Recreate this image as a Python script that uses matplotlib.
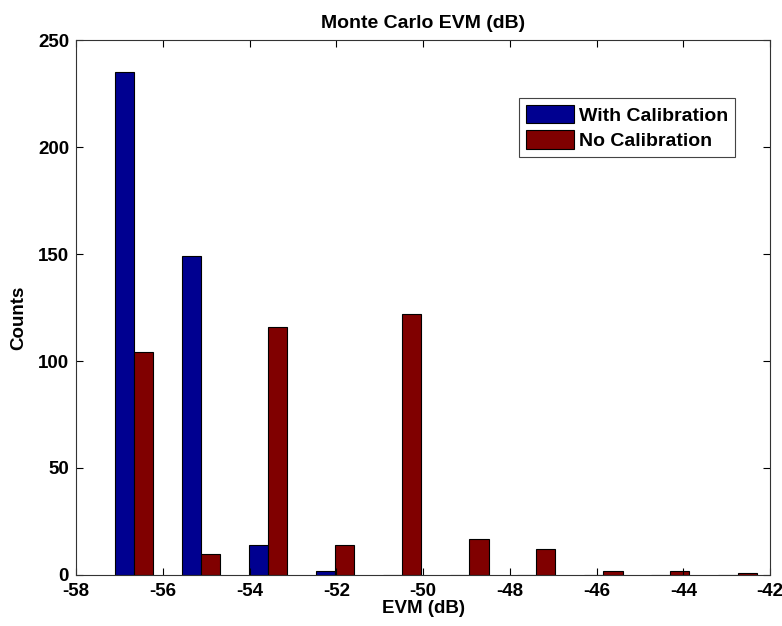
import matplotlib
matplotlib.use("Agg")
import matplotlib.pyplot as plt
import numpy as np

plt.rcParams['font.family'] = ['Liberation Sans', 'DejaVu Sans']
plt.rcParams['axes.unicode_minus'] = False

# Data
bin_centers = [-56.66, -55.11, -53.57, -52.02, -50.48, -48.93, -47.39, -45.84, -44.30, -42.75]
with_cal = [235, 149, 14, 2, 0, 0, 0, 0, 0, 0]
no_cal = [104, 10, 116, 14, 122, 17, 12, 2, 2, 1]
series_labels = ["With Calibration", "No Calibration"]
xticks = list(range(-58, -41, 2))
yticks = list(range(0, 251, 50))

fig = plt.figure(figsize=(7.82, 6.26), dpi=100)
ax = fig.add_axes([0.0972, 0.0815, 0.8875, 0.8545])

x = np.array(bin_centers)
w = 0.44
ax.bar(x - w / 2, with_cal, width=w, color="#000090", edgecolor="black", linewidth=0.8,
       label=series_labels[0])
ax.bar(x + w / 2, no_cal, width=w, color="#800000", edgecolor="black", linewidth=0.8,
       label=series_labels[1])

ax.set_xlim(-58, -42)
ax.set_ylim(0, 250)
ax.set_xticks(xticks)
ax.set_yticks(yticks)
ax.tick_params(direction="in", top=True, right=True, length=5, width=0.8,
               labelsize=13.5)
ax.tick_params(axis="x", pad=6)
ax.tick_params(axis="y", pad=5)
for lbl in ax.get_xticklabels() + ax.get_yticklabels():
    lbl.set_fontweight("bold")
for s in ax.spines.values():
    s.set_linewidth(0.8)
    s.set_color("#333333")

ax.set_title("Monte Carlo EVM (dB)", fontsize=14, fontweight="bold", pad=9)
ax.set_xlabel("EVM (dB)", fontsize=13.5, fontweight="bold", labelpad=0)
ax.set_ylabel("Counts", fontsize=13.5, fontweight="bold")
ax.yaxis.set_label_coords(-0.07, 0.48)

leg = ax.legend(loc="upper right", bbox_to_anchor=(0.95, 0.892), fancybox=False,
                edgecolor="#444444", framealpha=1, prop={"weight": "bold", "size": 14},
                handlelength=2.5, handleheight=1.1, labelspacing=0.3,
                borderpad=0.35, handletextpad=0.25, borderaxespad=0)
leg.get_frame().set_linewidth(0.8)

fig.savefig("out.png", dpi=100)
